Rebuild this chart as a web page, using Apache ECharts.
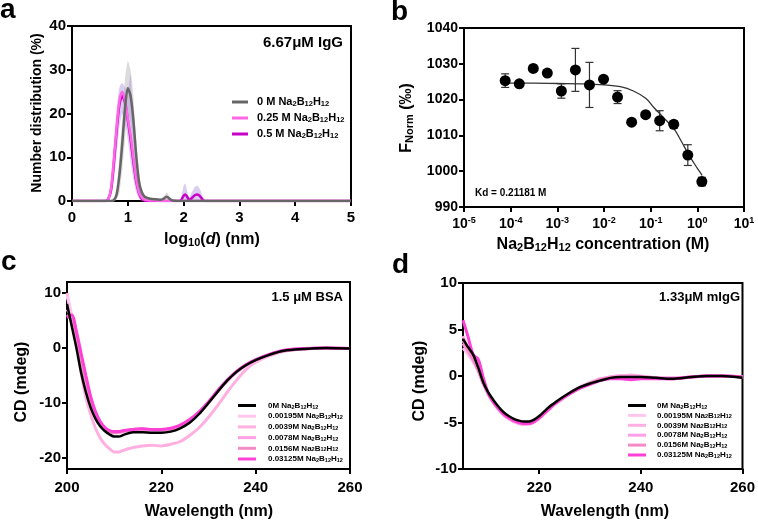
<!DOCTYPE html>
<html><head><meta charset="utf-8">
<script src="https://cdn.jsdelivr.net/npm/echarts@6/dist/echarts.min.js"></script>
<style>html,body{margin:0;padding:0;background:#fff}#c{width:758px;height:521px}</style>
</head><body><div id="c"></div>
<script>
// ---------- Panel a: DLS number distribution ----------
const xsA = [0,0.6,0.65,0.7,0.75,0.8,0.85,0.9,0.95,1.0,1.05,1.1,1.15,1.2,1.25,1.3,1.35,1.4,1.5,1.6,1.65,1.7,1.75,1.8,1.9,1.95,2.0,2.03,2.07,2.1,2.15,2.2,2.25,2.3,2.35,2.4,2.5,3,4,5];
const a0M   = [0,0,0,0,0.2,1.5,6,13,21,25.8,24,18.5,10.5,4.5,2,1,0.7,0.5,0.4,0.3,0.6,1.0,0.5,0.1,0,0,0,0,0,0,0,0,0,0,0,0,0,0,0,0];
const a025M = [0,0,0.4,3,9.5,17,23,25,23,19,15,10,5,2,0.8,0.3,0.2,0.1,0.1,0,0,0,0,0,0,0,0,0,0,0,0,0,0,0,0,0,0,0,0,0];
const a05M  = [0,0,0.5,2.5,8.5,16,22,24,22.5,18.5,14,9,4.5,1.8,0.5,0.1,0,0,0,0,0,0,0,0,0,0.1,1.2,1.5,0.8,0.2,0.7,1.3,1.5,1.0,0.2,0,0,0,0,0];
const aGreyHi = [0,0,0,0,0.5,3,10,19,28,32,30,24,14,7,3,1.5,1,0.8,0.7,0.6,1.2,2,1,0.2,0,0,0,0,0,0,0,0,0,0,0,0,0,0,0,0];
const aGreyLo = [0,0,0,0,0,0.3,2,7,14,20,18,13,7,2.5,1,0.5,0.3,0.2,0.1,0.1,0.2,0.4,0.1,0,0,0,0,0,0,0,0,0,0,0,0,0,0,0,0,0];
const aPurpHi = [0,0,0.8,5,13,21,26,27,26,25,29,17,8,3.5,1.5,0.6,0.3,0.2,0.2,0.1,0.1,0.1,0,0,0,0.5,3.5,4,2,0.8,2,3.2,3.5,2.5,0.8,0,0,0,0,0];
const aPurpLo = [0,0,0,1,5,11,17,20,18,14,9,5,2,0.5,0,0,0,0,0,0,0,0,0,0,0,0,0,0,0,0,0,0,0,0,0,0,0,0,0,0];
const aNames = ['0 M Na2B12H12','0.25 M Na2B12H12','0.5 M Na2B12H12'];

// ---------- Panel b: MST binding ----------
const concB = [7.63e-5,1.53e-4,3.05e-4,6.10e-4,1.22e-3,2.44e-3,4.88e-3,9.77e-3,1.95e-2,3.91e-2,7.81e-2,0.156,0.3125,0.625,1.25];
const fNorm = [1025.3,1024.4,1028.7,1027.4,1022.4,1028.3,1024.1,1025.7,1020.7,1013.7,1015.8,1014.1,1013.1,1004.5,997.1];
const errB  = [1.9,0,0,0,2.0,6.0,6.3,0,1.8,0,0,2.8,1.0,2.9,1.2];
const fitX = [7.6e-5,3.16e-4,1e-3,3.16e-3,0.01,0.0224,0.0427,0.0794,0.117,0.178,0.316,0.447,0.617,0.891,1.2,1.26];
const fitY = [1024.6,1024.6,1024.5,1024.4,1024.1,1023.6,1022.4,1020.3,1017.8,1015.3,1011.8,1008.5,1005.2,1001.8,999.3,998.8];

// ---------- Panel c: CD of BSA ----------
const wlC = [200,201,202,203,204,205,206,207,208,209,210,211,212,214,216,218,220,222,224,226,228,230,232,234,236,238,240,243,246,250,255,260];
const c0  = [8,4,0,-4.5,-8,-10.8,-12.8,-14.2,-15.1,-15.7,-16.1,-16.1,-15.8,-15.3,-15.3,-15.4,-15.4,-15.2,-14.6,-13.6,-12,-10,-7.9,-5.9,-4.3,-3.1,-2.2,-1.2,-0.5,-0.2,0,-0.1];
const c1  = [9.5,6,2,-2.5,-6.5,-9.6,-11.9,-13.5,-14.5,-15.1,-15.4,-15.4,-15.2,-15.0,-14.9,-15.0,-15.0,-14.9,-14.4,-13.4,-11.9,-10.0,-7.9,-6.0,-4.4,-3.2,-2.3,-1.3,-0.6,-0.2,0,-0.1];
const c2  = [10,5.5,1,-4.5,-9,-12,-14.5,-16.3,-17.5,-18.3,-18.9,-18.9,-18.6,-18.1,-17.8,-17.7,-17.8,-17.5,-17,-15.9,-14.5,-12.6,-10.4,-8,-5.8,-3.9,-2.6,-1.4,-0.6,-0.2,0,-0.1];
const c3  = [7,5.5,2.5,-1.5,-5.5,-9,-11.6,-13.4,-14.5,-15.1,-15.3,-15.3,-15.1,-14.9,-14.8,-14.9,-14.9,-14.8,-14.2,-13.2,-11.8,-9.9,-7.8,-5.9,-4.3,-3.1,-2.2,-1.2,-0.5,-0.2,0,-0.1];
const c4  = [6,5,2,-2,-6,-9.3,-11.8,-13.5,-14.6,-15.2,-15.4,-15.3,-15.1,-14.8,-14.7,-14.8,-14.8,-14.7,-14.1,-13.1,-11.7,-9.8,-7.8,-5.9,-4.3,-3.1,-2.2,-1.2,-0.5,-0.2,0,-0.1];
const c5  = [5.5,6,3,-1,-5,-8.8,-11.5,-13.3,-14.4,-15.0,-15.2,-15.2,-15.0,-14.8,-14.7,-14.8,-14.8,-14.6,-14.0,-13.0,-11.6,-9.8,-7.7,-5.8,-4.2,-3.0,-2.1,-1.1,-0.4,-0.1,0,-0.1];

// ---------- Panel d: CD of mIgG ----------
const wlD = [205,206,207,208,209,210,211,212,213,214,215,216,217,218,219,220,221,222,223,224,226,228,230,232,234,236,238,240,243,246,250,253,256,260];
const d0 = [4,3.1,2.3,0.9,-0.7,-1.8,-2.6,-3.3,-3.9,-4.3,-4.6,-4.8,-4.9,-4.9,-4.7,-4.3,-3.8,-3.3,-2.9,-2.5,-1.8,-1.2,-0.8,-0.5,-0.2,-0.1,-0.1,-0.1,-0.2,-0.3,-0.1,0,0,-0.2];
const d1 = [3,2.3,1.5,0.5,-0.9,-2.0,-2.9,-3.6,-4.2,-4.6,-4.9,-5.1,-5.2,-5.2,-5.0,-4.6,-4.1,-3.6,-3.1,-2.7,-1.9,-1.3,-0.8,-0.4,-0.1,0,0,-0.1,-0.2,-0.3,-0.1,0,0,-0.1];
const d2 = [4.3,3.0,1.9,0.7,-0.8,-1.9,-2.8,-3.5,-4.1,-4.5,-4.8,-5.0,-5.1,-5.1,-4.9,-4.5,-4.0,-3.5,-3.0,-2.6,-1.8,-1.2,-0.7,-0.3,-0.1,0,0.1,0,-0.2,-0.3,-0.1,0,0,-0.1];
const d3 = [3.5,2.6,1.7,0.6,-0.8,-2.0,-2.9,-3.6,-4.2,-4.6,-4.9,-5.1,-5.2,-5.1,-4.9,-4.5,-4.0,-3.5,-3.0,-2.6,-1.9,-1.3,-0.8,-0.4,-0.1,0,0,-0.1,-0.2,-0.2,-0.1,0,0,-0.1];
const d4 = [3.8,2.8,1.8,0.6,-0.8,-1.9,-2.8,-3.5,-4.1,-4.5,-4.8,-5.0,-5.1,-5.1,-4.9,-4.5,-4.0,-3.5,-3.0,-2.6,-1.9,-1.3,-0.8,-0.4,-0.2,-0.1,-0.1,-0.1,-0.2,-0.3,-0.1,0,0,-0.1];
const d5 = [6,4.2,2.3,1.8,-0.2,-1.9,-2.8,-3.5,-4.1,-4.5,-4.8,-5.0,-5.1,-5.1,-4.9,-4.5,-4.0,-3.5,-3.0,-2.6,-1.9,-1.3,-0.9,-0.5,-0.3,-0.3,-0.4,-0.3,-0.3,-0.3,-0.1,0,0,-0.1];
const cdNames = ['0M Na2B12H12','0.00195M Na2B12H12','0.0039M Na2B12H12','0.0078M Na2B12H12','0.0156M Na2B12H12','0.03125M Na2B12H12'];
const cdColors = ['#000000','#ffc6ee','#ffb0e0','#ff9fe6','#f58bc6','#ff40d6'];

const FF = '"Liberation Sans", Arial, sans-serif';
const pairs = (xs, ys) => xs.map((x, i) => [x, ys[i]]);

function bandSeries(xs, hi, lo, fill, xi, yi) {
  return {
    type: 'custom', xAxisIndex: xi, yAxisIndex: yi, silent: true, z: 1,
    data: [[xs[0], 0]], encode: {x: 0, y: 1},
    renderItem: function (params, api) {
      const pts = xs.map((x, i) => api.coord([x, hi[i]]));
      for (let i = xs.length - 1; i >= 0; i--) pts.push(api.coord([xs[i], lo[i]]));
      return {type: 'polygon', shape: {points: pts, smooth: 0.2}, style: {fill: fill}};
    }
  };
}

const axisCommon = {
  axisLine: {show: true, onZero: false, lineStyle: {color: '#000', width: 2}},
  axisTick: {show: true, inside: false, length: 5, lineStyle: {color: '#000', width: 2}},
  splitLine: {show: false},
  axisLabel: {color: '#000', fontWeight: 'bold', fontFamily: FF, fontSize: 15}
};
function ax(extra) {
  const o = JSON.parse(JSON.stringify(axisCommon));
  for (const k in extra) {
    if (typeof extra[k] === 'object' && o[k] && !Array.isArray(extra[k])) Object.assign(o[k], extra[k]);
    else o[k] = extra[k];
  }
  return o;
}

const subFmt = n => n.replace('Na2B12H12', 'Na{s|2}B{s|12}H{s|12}');

function legendCfg(names, left, top, iw, gap, fs, sfs, lh, gw) {
  return {
    data: names, left: left, top: top, orient: 'vertical', icon: 'rect',
    itemWidth: iw, itemHeight: 3, itemGap: gap, selectedMode: false, padding: 0,
    formatter: n => '{g| }' + subFmt(n),
    textStyle: {fontSize: fs, fontWeight: 'bold', fontFamily: FF, color: '#000', lineHeight: lh,
      rich: {
        g: {width: gw, fontSize: fs, lineHeight: lh},
        s: {fontSize: sfs, fontWeight: 'bold', fontFamily: FF, color: '#000', verticalAlign: 'bottom', lineHeight: Math.max(3, lh - 7)}
      }}
  };
}

const cdSeries = (xs, arrs, xi, yi, order) => order.map(k => ({
  type: 'line', name: cdNames[k], xAxisIndex: xi, yAxisIndex: yi, data: pairs(xs, arrs[k]),
  showSymbol: false, symbol: 'none', smooth: 0.3, color: cdColors[k],
  lineStyle: {color: cdColors[k], width: k === 0 ? 2.5 : 3}, z: 2 + order.indexOf(k)
}));

function txt(x, y, text, size, align, extra) {
  return {type: 'text', x: x, y: y, silent: true, z: 100,
    style: Object.assign({text: text, fontSize: size, fontWeight: 'bold', fontFamily: FF, fill: '#000',
      align: align || 'left', verticalAlign: 'middle'}, extra || {})};
}

const chart = echarts.init(document.getElementById('c'), null, {renderer: 'canvas'});
chart.setOption({
  animation: false,
  backgroundColor: '#fff',
  grid: [
    {left: 72, top: 26, width: 279, height: 175, show: true, borderColor: '#000', borderWidth: 2, backgroundColor: 'transparent'},
    {left: 464, top: 28, width: 280, height: 179, show: true, borderColor: '#000', borderWidth: 2, backgroundColor: 'transparent'},
    {left: 67, top: 282, width: 283, height: 187, show: true, borderColor: '#000', borderWidth: 2, backgroundColor: 'transparent'},
    {left: 463, top: 283, width: 283, height: 186, show: true, borderColor: '#000', borderWidth: 2, backgroundColor: 'transparent'}
  ],
  xAxis: [
    ax({type: 'value', gridIndex: 0, min: 0, max: 5, interval: 1, axisLabel: {margin: 9}}),
    ax({type: 'log', gridIndex: 1, logBase: 10, min: 1e-5, max: 10, splitNumber: 6,
      axisLabel: {margin: 9, formatter: v => '{b|10}{p|' + Math.round(Math.log10(v)) + '}',
        rich: {b: {fontSize: 14, fontWeight: 'bold', fontFamily: FF, color: '#000', lineHeight: 16},
               p: {fontSize: 9, fontWeight: 'bold', fontFamily: FF, color: '#000', verticalAlign: 'top', lineHeight: 7}}}}),
    ax({type: 'value', gridIndex: 2, min: 200, max: 260, interval: 20, axisLabel: {margin: 11}}),
    ax({type: 'value', gridIndex: 3, min: 205, max: 260,
      axisLabel: {margin: 11, customValues: [220, 240, 260]}, axisTick: {customValues: [220, 240, 260]}})
  ],
  yAxis: [
    ax({type: 'value', gridIndex: 0, min: 0, max: 40, interval: 10, axisLabel: {margin: 6}}),
    ax({type: 'value', gridIndex: 1, min: 990, max: 1040, interval: 10, axisLabel: {margin: 6, fontSize: 14, formatter: v => String(v)}}),
    ax({type: 'value', gridIndex: 2, min: -22, max: 12,
      axisLabel: {margin: 6, customValues: [-20, -10, 0, 10]}, axisTick: {customValues: [-20, -10, 0, 10]}}),
    ax({type: 'value', gridIndex: 3, min: -10, max: 10, interval: 5, axisLabel: {margin: 6}})
  ],
  legend: [
    legendCfg(aNames, 232, 96, 16, 4, 11, 7.5, 12, 4),
    legendCfg(cdNames, 238, 401, 18, 1.7, 8, 5.5, 9, 7),
    legendCfg(cdNames, 628, 401, 18, 0.9, 8, 5.5, 9, 6)
  ],
  series: [
    bandSeries(xsA, aGreyHi, aGreyLo, 'rgba(185,185,185,0.5)', 0, 0),
    bandSeries(xsA, aPurpHi, aPurpLo, 'rgba(175,145,225,0.45)', 0, 0),
    {type: 'line', name: aNames[2], xAxisIndex: 0, yAxisIndex: 0, data: pairs(xsA, a05M), symbol: 'none', smooth: 0.3,
      color: '#c800c8', lineStyle: {color: '#c800c8', width: 2.5}, z: 3},
    {type: 'line', name: aNames[1], xAxisIndex: 0, yAxisIndex: 0, data: pairs(xsA, a025M), symbol: 'none', smooth: 0.3,
      color: '#ff66e6', lineStyle: {color: '#ff66e6', width: 2.5}, z: 4},
    {type: 'line', name: aNames[0], xAxisIndex: 0, yAxisIndex: 0, data: pairs(xsA, a0M), symbol: 'none', smooth: 0.3,
      color: '#666666', lineStyle: {color: '#666666', width: 2.5}, z: 5},

    {type: 'line', xAxisIndex: 1, yAxisIndex: 1, data: pairs(fitX, fitY), symbol: 'none', smooth: 0.4,
      lineStyle: {color: '#333', width: 1.3}, z: 2, silent: true},
    {type: 'custom', xAxisIndex: 1, yAxisIndex: 1, z: 3, silent: true,
      data: concB.map((c, i) => [c, fNorm[i], errB[i]]), encode: {x: 0, y: 1},
      renderItem: function (params, api) {
        const x = api.value(0), y = api.value(1), e = api.value(2);
        if (!e) return null;
        const t = api.coord([x, y + e]), b = api.coord([x, y - e]);
        const st = {stroke: '#333', lineWidth: 1.2};
        return {type: 'group', children: [
          {type: 'line', shape: {x1: t[0], y1: t[1], x2: b[0], y2: b[1]}, style: st},
          {type: 'line', shape: {x1: t[0] - 4, y1: t[1], x2: t[0] + 4, y2: t[1]}, style: st},
          {type: 'line', shape: {x1: b[0] - 4, y1: b[1], x2: b[0] + 4, y2: b[1]}, style: st}
        ]};
      }},
    {type: 'scatter', xAxisIndex: 1, yAxisIndex: 1, data: pairs(concB, fNorm), symbol: 'circle', symbolSize: 11,
      itemStyle: {color: '#000', opacity: 1}, z: 4},

    ...cdSeries(wlC, [c0, c1, c2, c3, c4, c5], 2, 2, [2, 1, 3, 4, 5, 0]),
    ...cdSeries(wlD, [d0, d1, d2, d3, d4, d5], 3, 3, [1, 2, 3, 4, 5, 0])
  ],
  graphic: [
    txt(0, 10, 'a', 28), txt(391, 12, 'b', 28), txt(1, 262, 'c', 28), txt(392, 265, 'd', 28),
    txt(343, 43, '6.67μM IgG', 15, 'right'),
    txt(343, 297, '1.5 μM BSA', 13, 'right'),
    txt(740, 297, '1.33μM mIgG', 13, 'right'),
    txt(475, 193, 'Kd = 0.21181 M', 10),
    txt(212, 240, 'log{s|10}({i|d}) (nm)', 16, 'center', {rich: {
      s: {fontSize: 11, fontWeight: 'bold', fontFamily: FF, fill: '#000', verticalAlign: 'bottom', lineHeight: 5},
      i: {fontSize: 16, fontWeight: 'bold', fontStyle: 'italic', fontFamily: FF, fill: '#000'}}}),
    Object.assign(txt(37, 113, 'Number distribution (%)', 14, 'center'), {rotation: Math.PI / 2}),
    txt(603, 245, 'Na{s|2}B{s|12}H{s|12} concentration (M)', 16, 'center', {rich: {
      s: {fontSize: 11, fontWeight: 'bold', fontFamily: FF, fill: '#000', verticalAlign: 'bottom', lineHeight: 5}}}),
    Object.assign(txt(407, 118, 'F{s|Norm} (‰)', 16, 'center', {rich: {
      s: {fontSize: 11, fontWeight: 'bold', fontFamily: FF, fill: '#000', verticalAlign: 'bottom', lineHeight: 5}}}), {rotation: Math.PI / 2}),
    txt(209, 512, 'Wavelength (nm)', 16, 'center'),
    txt(605, 512, 'Wavelength (nm)', 16, 'center'),
    Object.assign(txt(22, 382, 'CD (mdeg)', 16, 'center'), {rotation: Math.PI / 2}),
    Object.assign(txt(420, 381, 'CD (mdeg)', 16, 'center'), {rotation: Math.PI / 2})
  ]
});
</script></body></html>
